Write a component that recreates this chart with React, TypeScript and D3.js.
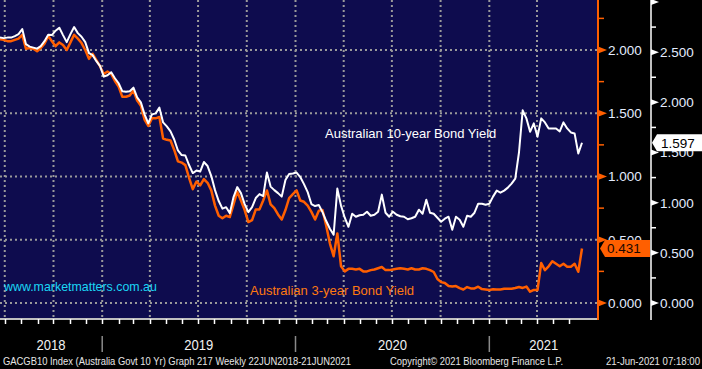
import React from "react";
import * as d3 from "d3";

// weekly closes, 22 Jun 2018 .. 21 Jun 2021 (Bloomberg spaces periods evenly)
const startDate = Date.UTC(2018, 5, 22);

const tenYear = [
  2.646, 2.64, 2.645, 2.645, 2.66, 2.68, 2.73, 2.58, 2.555, 2.545, 2.535, 2.56, 2.61, 2.674, 2.67, 2.714,
  2.744, 2.67, 2.6, 2.68, 2.75, 2.69, 2.654, 2.6, 2.49, 2.47, 2.41, 2.36, 2.256, 2.27, 2.3, 2.24,
  2.19, 2.11, 2.105, 2.11, 2.146, 2.05, 2.0, 1.88, 1.79, 1.88, 1.89, 1.947, 1.8, 1.76, 1.71, 1.63,
  1.52, 1.474, 1.47, 1.375, 1.295, 1.32, 1.31, 1.405, 1.365, 1.265, 1.125, 1.016, 0.94, 0.955, 0.896, 1.056,
  1.155, 1.095, 0.986, 0.906, 0.956, 1.046, 1.085, 1.066, 1.3, 1.16, 1.125, 1.095, 1.06, 1.225, 1.285, 1.29,
  1.3, 1.255, 1.185, 1.105, 0.986, 0.966, 0.976, 0.906, 0.817, 0.74, 0.68, 1.14, 0.97, 0.85, 0.76, 0.89,
  0.86, 0.875, 0.88, 0.91, 0.87, 0.88, 0.91, 1.08, 0.9, 0.86, 0.91, 0.88, 0.865, 0.86, 0.835, 0.845,
  0.86, 0.93, 0.89, 1.03, 0.9, 0.89, 0.85, 0.81, 0.84, 0.86, 0.73, 0.86, 0.83, 0.76, 0.87, 0.86,
  0.9, 0.99, 0.99, 0.98, 0.99, 1.06, 1.12, 1.1, 1.12, 1.15, 1.19, 1.24, 1.5, 1.92, 1.84, 1.706,
  1.79, 1.656, 1.84, 1.8, 1.74, 1.74, 1.74, 1.71, 1.8, 1.74, 1.7, 1.69, 1.49, 1.597,
];

const threeYear = [
  2.085, 2.08, 2.07, 2.07, 2.08, 2.09, 2.12, 2.01, 2.016, 2.01, 1.99, 2.016, 2.05, 2.11, 2.07, 2.03,
  2.06, 2.04, 2.0, 2.06, 2.12, 2.09, 2.055, 2.0, 1.93, 1.97, 1.92, 1.87, 1.81, 1.83, 1.81, 1.755,
  1.71, 1.63, 1.63, 1.64, 1.68, 1.6, 1.56, 1.45, 1.4, 1.46, 1.46, 1.47, 1.3, 1.29, 1.285, 1.21,
  1.12, 1.11, 1.09, 0.99, 0.9, 0.96, 0.93, 0.98, 0.95, 0.89, 0.77, 0.69, 0.67, 0.69, 0.68, 0.78,
  0.88, 0.81, 0.735, 0.64, 0.655, 0.74, 0.74, 0.81, 0.89, 0.78, 0.75, 0.7, 0.66, 0.735, 0.83, 0.86,
  0.89, 0.81, 0.8, 0.77, 0.72, 0.66, 0.73, 0.735, 0.61, 0.47, 0.37, 0.55, 0.29, 0.25, 0.27, 0.27,
  0.265, 0.27, 0.25, 0.25, 0.26, 0.265, 0.275, 0.285, 0.26, 0.26, 0.265, 0.27, 0.275, 0.27, 0.265, 0.275,
  0.265, 0.265, 0.275, 0.27, 0.26, 0.245, 0.19, 0.165, 0.158, 0.134, 0.13, 0.134, 0.118, 0.107, 0.126, 0.115,
  0.115, 0.129, 0.11, 0.107, 0.103, 0.108, 0.107, 0.107, 0.113, 0.113, 0.113, 0.119, 0.126, 0.119, 0.13, 0.089,
  0.103, 0.103, 0.316, 0.26, 0.29, 0.33, 0.31, 0.29, 0.31, 0.287, 0.287, 0.31, 0.247, 0.431,
];

const orangeTicks = [0, 0.5, 1, 1.5, 2];
const whiteTicks = [0, 0.5, 1, 1.5, 2, 2.5, 3];
const years = [2018, 2019, 2020, 2021];
const tenLabel = "Australian 10-year Bond Yield";
const threeLabel = "Australian 3-year Bond Yield";
const siteLabel = "www.marketmatters.com.au";
const footerLeft = "GACGB10 Index (Australia Govt 10 Yr) Graph 217  Weekly 22JUN2018-21JUN2021";
const footerMid = "Copyright\u00a9 2021 Bloomberg Finance L.P.";
const footerRight = "21-Jun-2021 07:18:00";

const NAVY = "#0e0c4e";
const ORANGE = "#ff5f00";
const FONT = "'Liberation Sans', Arial, sans-serif";

export default function App() {
  const ref = React.useRef<SVGSVGElement | null>(null);

  React.useEffect(() => {
    if (!ref.current) return;
    const svg = d3.select(ref.current);
    svg.selectAll("*").remove();
    const width = 702;
    const height = 369;
    const plotRight = 598;
    const plotBottom = 318;

    const x = d3.scaleLinear().domain([0, tenYear.length - 1]).range([0, 582]);
    const weekOf = (t: number) => (t - startDate) / (7 * 864e5);
    const yO = d3.scaleLinear().domain([0, 2]).range([303, 50]);
    const yW = d3.scaleLinear().domain([0, 3]).range([303, 2]);

    svg.append("rect").attr("width", width).attr("height", height).attr("fill", "#000");
    svg.append("rect").attr("width", plotRight).attr("height", plotBottom).attr("fill", NAVY);

    const endT = startDate + (tenYear.length - 1) * 7 * 864e5;
    const months = d3.utcMonth.range(new Date(startDate), new Date(endT));
    const quarters = months.filter(m => m.getUTCMonth() % 3 === 0);

    // dotted grid
    const grid = svg.append("g").attr("stroke", "#9a9a9a").attr("stroke-width", 2).attr("stroke-dasharray", "2 3");
    quarters.forEach(q => {
      const xx = x(weekOf(q.getTime()));
      grid.append("line").attr("x1", xx).attr("x2", xx).attr("y1", 0).attr("y2", plotBottom);
    });
    orangeTicks.forEach(v => {
      grid.append("line").attr("x1", 0).attr("x2", plotRight).attr("y1", yO(v)).attr("y2", yO(v));
    });

    // bottom axis
    svg.append("line").attr("x1", 0).attr("x2", plotRight).attr("y1", plotBottom + 1).attr("y2", plotBottom + 1)
      .attr("stroke", "#fff").attr("stroke-width", 1.5);
    months.forEach(m => {
      const xx = Math.round(x(weekOf(m.getTime()))) + 0.5;
      svg.append("line").attr("x1", xx).attr("x2", xx).attr("y1", plotBottom + 1).attr("y2", plotBottom + 6)
        .attr("stroke", "#fff").attr("stroke-width", 1.5);
    });
    const yearStarts = years.slice(1).map(yr => x(weekOf(Date.UTC(yr, 0, 1))));
    yearStarts.forEach(xx => {
      svg.append("line").attr("x1", xx).attr("x2", xx).attr("y1", 336).attr("y2", 352)
        .attr("stroke", "#8a8a8a").attr("stroke-width", 1.5);
    });
    const bounds = [0, ...yearStarts, plotRight];
    years.forEach((yr, i) => {
      svg.append("text").attr("x", (bounds[i] + bounds[i + 1]) / 2).attr("y", 350)
        .attr("text-anchor", "middle").attr("fill", "#f2f2f2").attr("font-family", FONT)
        .attr("font-size", 15).attr("textLength", 29).attr("lengthAdjust", "spacingAndGlyphs").text(yr);
    });

    // series
    const line = (yScale: d3.ScaleLinear<number, number>) =>
      d3.line<number>().x((_, i) => x(i)).y(d => yScale(d));
    svg.append("path").datum(threeYear).attr("fill", "none").attr("stroke", ORANGE).attr("stroke-width", 2.5)
      .attr("stroke-linejoin", "round").attr("d", line(yO));
    svg.append("path").datum(tenYear).attr("fill", "none").attr("stroke", "#fff").attr("stroke-width", 2)
      .attr("stroke-linejoin", "round").attr("d", line(yW));

    // annotations
    svg.append("text").attr("x", 325).attr("y", 138).attr("fill", "#fff").attr("font-family", FONT)
      .attr("font-size", 13).text(tenLabel);
    svg.append("text").attr("x", 250).attr("y", 295).attr("fill", "#ff7a10").attr("font-family", FONT)
      .attr("font-size", 13).text(threeLabel);
    svg.append("text").attr("x", 4).attr("y", 291).attr("fill", "#1ad6f5").attr("font-family", FONT)
      .attr("font-size", 12.4).text(siteLabel);

    // orange axis
    svg.append("line").attr("x1", plotRight).attr("x2", plotRight).attr("y1", 0).attr("y2", plotBottom + 2)
      .attr("stroke", ORANGE).attr("stroke-width", 2);
    d3.range(0, 2.51, 0.25).forEach(v => {
      const yy = yO(v);
      if (yy < 0) return;
      if (v % 0.5 === 0) {
        svg.append("path").attr("d", `M${plotRight},${yy - 3.5}L${plotRight + 9},${yy}L${plotRight},${yy + 3.5}Z`).attr("fill", ORANGE);
      } else {
        svg.append("line").attr("x1", plotRight).attr("x2", plotRight + 6).attr("y1", yy).attr("y2", yy)
          .attr("stroke", ORANGE).attr("stroke-width", 1.5);
      }
    });
    orangeTicks.forEach(v => {
      svg.append("text").attr("x", 608).attr("y", yO(v)).attr("dy", "0.36em").attr("fill", "#e4ecff")
        .attr("font-family", FONT).attr("font-size", 13.5).text(d3.format(".3f")(v));
    });

    // white axis
    svg.append("line").attr("x1", 651).attr("x2", 651).attr("y1", 0).attr("y2", plotBottom + 2)
      .attr("stroke", "#fff").attr("stroke-width", 1.5);
    d3.range(0, 3.01, 0.25).forEach(v => {
      const yy = yW(v);
      if (v % 0.5 === 0) {
        svg.append("path").attr("d", `M651,${yy - 3}L659,${yy}L651,${yy + 3}Z`).attr("fill", "#fff");
      } else {
        svg.append("line").attr("x1", 651).attr("x2", 656).attr("y1", yy).attr("y2", yy)
          .attr("stroke", "#fff").attr("stroke-width", 1.5);
      }
    });
    whiteTicks.filter(v => v < 3).forEach(v => {
      svg.append("text").attr("x", 660).attr("y", yW(v)).attr("dy", "0.36em").attr("fill", "#e4ecff")
        .attr("font-family", FONT).attr("font-size", 13.5).text(d3.format(".3f")(v));
    });

    // last value tags
    const lastW = tenYear[tenYear.length - 1];
    const tw = yW(lastW);
    svg.append("path").attr("d", `M652,${tw}L657,${tw - 8.5}L702,${tw - 8.5}L702,${tw + 8.5}L657,${tw + 8.5}Z`).attr("fill", "#fff");
    svg.append("text").attr("x", 661).attr("y", tw).attr("dy", "0.36em").attr("fill", "#000")
      .attr("font-family", FONT).attr("font-size", 13.5).text(d3.format(".3f")(lastW));
    const lastO = threeYear[threeYear.length - 1];
    const to = yO(lastO);
    svg.append("path").attr("d", `M600,${to}L605,${to - 8.5}L650,${to - 8.5}L650,${to + 8.5}L605,${to + 8.5}Z`).attr("fill", ORANGE);
    svg.append("text").attr("x", 607).attr("y", to).attr("dy", "0.36em").attr("fill", "#1a0800")
      .attr("font-family", FONT).attr("font-size", 13.5).text(d3.format(".3f")(lastO));

    // footer
    const foot = [
      { t: footerLeft, x: 3, w: 348 },
      { t: footerMid, x: 390, w: 173 },
      { t: footerRight, x: 606, w: 94 },
    ];
    foot.forEach(f => {
      svg.append("text").attr("x", f.x).attr("y", 365).attr("fill", "#e6e6e6").attr("font-family", FONT)
        .attr("font-size", 11).attr("textLength", f.w).attr("lengthAdjust", "spacingAndGlyphs").text(f.t);
    });
  }, []);

  return (
    <>
      <style>{`body{margin:0;background:#000}`}</style>
      <svg ref={ref} width={702} height={369} style={{ display: "block" }}></svg>
    </>
  );
}
